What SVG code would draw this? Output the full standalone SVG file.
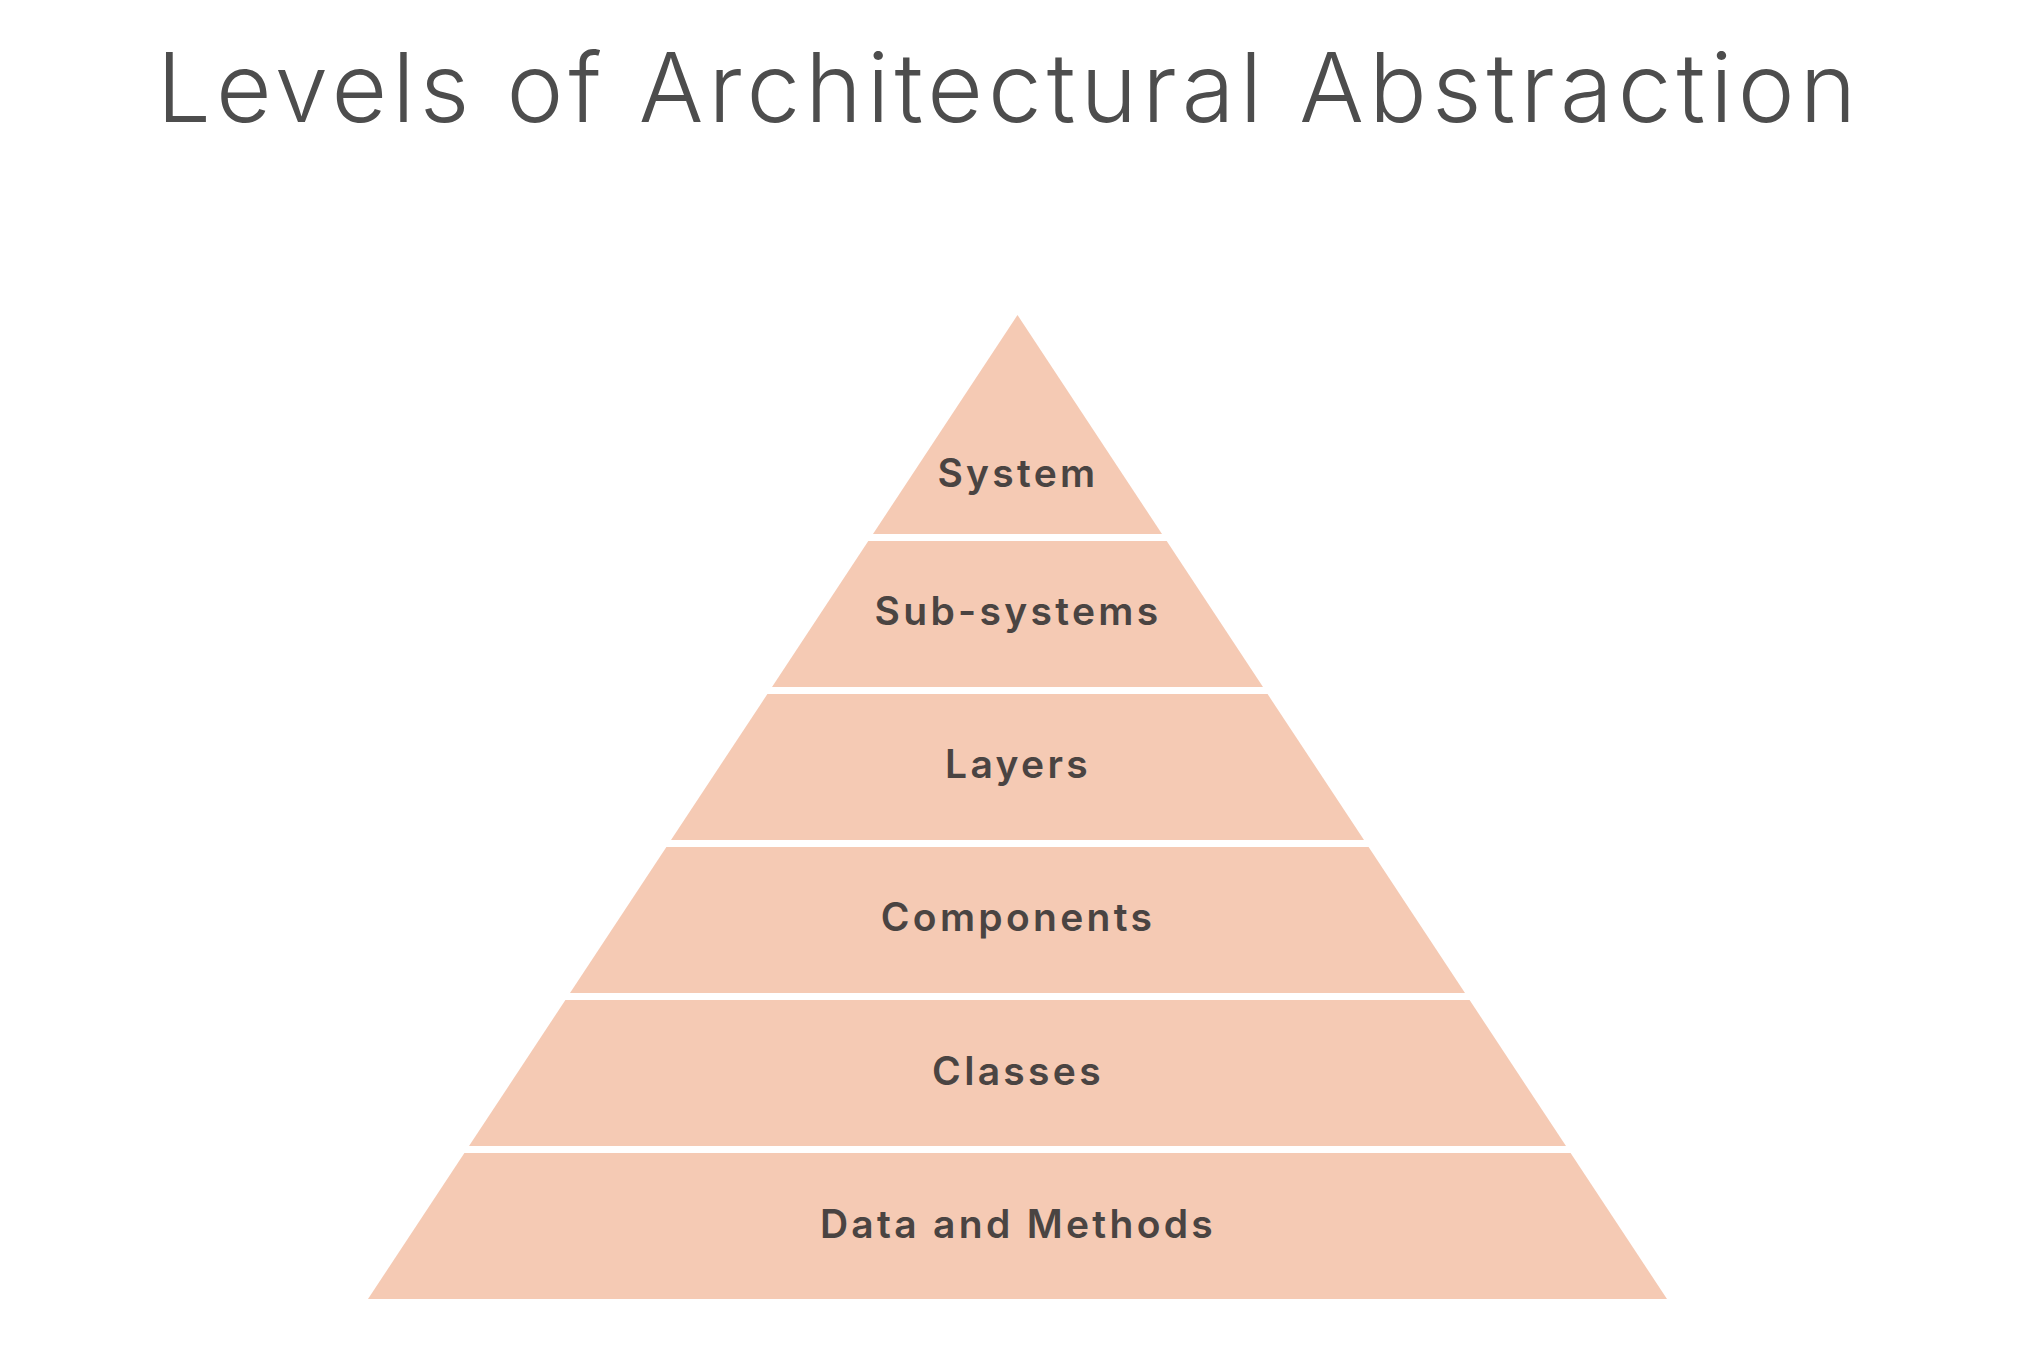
<svg xmlns="http://www.w3.org/2000/svg" width="2036" height="1352" viewBox="0 0 2036 1352">
<style>
.band{fill:#F5CAB4;}
.lbl{font-family:Inter,"Noto Sans","Liberation Sans",sans-serif;font-weight:560;font-size:39px;letter-spacing:3.3px;fill:#4A4442;text-anchor:middle;}
.title{font-family:Inter,"Noto Sans","Liberation Sans",sans-serif;font-weight:280;font-size:96px;letter-spacing:5.1px;fill:#4D4D4D;text-anchor:middle;}
</style>
<rect width="2036" height="1352" fill="#FFFFFF"/>
<text id="title" class="title" x="1009" y="122">Levels of Architectural Abstraction</text>
<g id="system"><polygon class="band" points="1017.5,315 1162,534 873,534"/><text class="lbl" x="1018" y="487">System</text></g>
<g id="subsystems"><polygon class="band" points="868.3,541 1166.7,541 1263,687 772,687"/><text class="lbl" x="1018" y="625">Sub-systems</text></g>
<g id="layers"><polygon class="band" points="767.4,694 1267.6,694 1364,840 671,840"/><text class="lbl" x="1018" y="778">Layers</text></g>
<g id="components"><polygon class="band" points="666.4,847 1368.6,847 1465,993 570,993"/><text class="lbl" x="1018" y="931">Components</text></g>
<g id="classes"><polygon class="band" points="565.4,1000 1469.6,1000 1566,1146 469,1146"/><text class="lbl" x="1018" y="1085">Classes</text></g>
<g id="data"><polygon class="band" points="464.4,1153 1570.6,1153 1667,1299 368,1299"/><text class="lbl" x="1018" y="1238">Data and Methods</text></g>
<g id="connectors"></g>
</svg>
